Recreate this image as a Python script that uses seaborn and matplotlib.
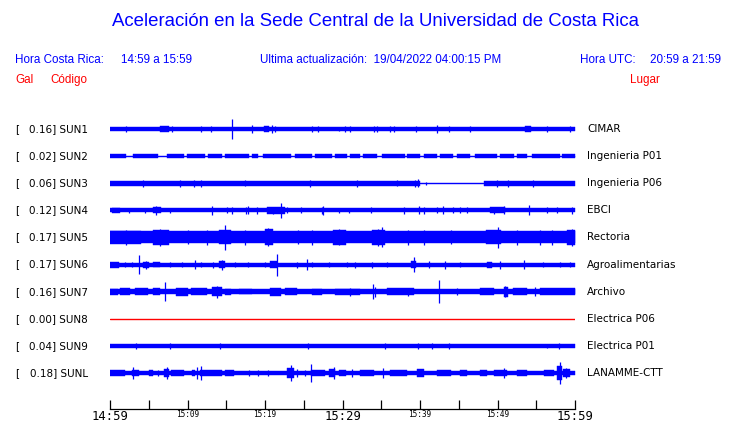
import matplotlib
matplotlib.use("Agg")
import matplotlib.pyplot as plt
import matplotlib.transforms as mtransforms
import seaborn as sns
import pandas as pd

# ---------------- data ----------------
codes = ["SUN1", "SUN2", "SUN3", "SUN4", "SUN5", "SUN6", "SUN7", "SUN8", "SUN9", "SUNL"]
gal = ["0.16", "0.02", "0.06", "0.12", "0.17", "0.17", "0.16", "0.00", "0.04", "0.18"]
places = ["CIMAR", "Ingenieria P01", "Ingenieria P06", "EBCI", "Rectoria",
          "Agroalimentarias", "Archivo", "Electrica P06", "Electrica P01", "LANAMME-CTT"]
trace_colors = ["#0000ff"] * 7 + ["#ff0000"] + ["#0000ff"] * 2

tick_minutes = [0, 5, 10, 15, 20, 25, 30, 35, 40, 45, 50, 55, 60]
tick_labels = ["14:59", "", "15:09", "", "15:19", "", "15:29", "", "15:39", "", "15:49", "", "15:59"]
big_ticks = ["14:59", "15:29", "15:59"]

# relative amplitude (trace spacing = 81 units); minutes since 14:59
# segments: (start minute, end minute, half amplitude)
segments = {
    "SUN1": [(0, 60, 6.5), (6.5, 7.6, 8.5), (19.9, 20.5, 9), (53.5, 54.3, 9)],
    "SUN2": [(0, 60, 1.5), (0, 2.0, 5), (3.0, 6.2, 5), (7.3, 9.6, 5), (9.9, 12.3, 5), (12.7, 14.4, 5),
             (14.8, 17.9, 5), (18.3, 19.1, 5), (19.8, 23.4, 5), (23.9, 26.0, 5), (26.5, 28.6, 5),
             (29.0, 30.6, 5), (31.0, 32.3, 5), (32.7, 34.4, 5), (35.1, 38.1, 5), (38.3, 40.0, 5),
             (40.5, 42.2, 5), (42.6, 44.3, 5), (44.8, 46.5, 5), (47.1, 49.9, 5), (50.3, 52.1, 5),
             (52.5, 53.8, 5), (54.4, 58.1, 5), (58.3, 60, 5)],
    "SUN3": [(0, 40.0, 8), (40.0, 48.3, 1.5), (48.3, 60, 8)],
    "SUN4": [(0, 60, 6), (0.2, 1.3, 8), (5.5, 6.6, 9), (20.2, 22.6, 10), (49.0, 51.0, 9)],
    "SUN5": [(0, 60, 18), (0, 4.0, 20), (5.6, 7.6, 23), (14.0, 15.6, 21), (20.0, 21.0, 24),
             (28.8, 30.4, 22), (33.8, 35.5, 23), (48.5, 50.5, 21), (59.0, 60, 23)],
    "SUN6": [(0, 60, 6), (0.0, 1.2, 9), (4.3, 5.0, 9), (5.5, 6.5, 8), (14.0, 14.8, 11),
             (20.7, 21.5, 11), (38.8, 39.5, 11), (48.6, 49.3, 9)],
    "SUN7": [(0, 60, 7), (0, 1.0, 9), (1.3, 2.6, 11), (3.2, 4.9, 10), (5.5, 6.5, 10), (8.5, 10.0, 12),
             (10.5, 12.5, 11), (13.2, 14.4, 14), (14.8, 15.6, 9), (16.6, 18.3, 8), (20.7, 22.0, 12),
             (22.6, 24.1, 10), (26.0, 27.3, 9), (29.0, 32.3, 9), (35.7, 39.2, 10), (47.8, 49.5, 10),
             (50.8, 51.3, 15), (52.0, 53.8, 10), (55.5, 60, 10)],
    "SUN8": [],
    "SUN9": [(0, 60, 6)],
    "SUNL": [(0, 60, 5.5), (0, 1.9, 8), (2.8, 3.8, 10), (5.0, 5.6, 9), (7.0, 7.6, 13), (7.9, 9.6, 8),
             (10.6, 11.0, 9), (11.6, 14.4, 8), (14.8, 16.0, 8), (22.8, 23.8, 14), (25.9, 27.7, 9),
             (28.3, 29.0, 13), (29.6, 30.4, 8), (32.3, 34.0, 8), (36.1, 38.3, 8), (39.6, 40.5, 12),
             (42.2, 44.0, 8), (45.2, 46.0, 8), (47.8, 48.6, 8), (49.5, 51.2, 9), (52.5, 53.8, 8),
             (56.0, 57.3, 9), (57.7, 58.3, 20), (58.5, 59.4, 12)],
}

# spikes: (minute, half amplitude)
spikes = {
    "SUN1": [(2.0, 8), (7.96, 10), (11.7, 8), (13.0, 9), (15.7, 31), (18.3, 11), (20.9, 11), (21.3, 9),
             (26.0, 8), (26.9, 8), (29.5, 7), (30.3, 8), (31.0, 8), (34.0, 10), (34.4, 9), (36.1, 8),
             (36.6, 8), (39.5, 9), (42.2, 11), (43.8, 10), (46.5, 8), (56.4, 8), (59.4, 8)],
    "SUN2": [],
    "SUN3": [(4.2, 10), (9.0, 10), (10.8, 10), (11.8, 10), (17.4, 9), (25.8, 10), (31.9, 10), (37.0, 9),
             (39.4, 11), (39.7, 12), (40.8, 4), (49.9, 10), (51.4, 10), (54.6, 10)],
    "SUN4": [(2.4, 8), (4.5, 8), (5.9, 13), (7.7, 8), (13.2, 14), (15.1, 9), (15.7, 10), (17.6, 10),
             (17.8, 12), (19.0, 10), (21.0, 11), (22.0, 22), (22.8, 9), (24.7, 9), (27.3, 10), (27.5, 13),
             (29.5, 8), (30.8, 8), (33.7, 9), (37.9, 10), (39.9, 12), (40.5, 10), (42.2, 9), (43.0, 12),
             (44.3, 9), (45.2, 9), (46.0, 9), (49.5, 10), (50.8, 12), (54.0, 15), (56.4, 9), (57.7, 9),
             (59.6, 11)],
    "SUN5": [(2.0, 22), (6.5, 26), (10.1, 21), (12.5, 22), (14.8, 37), (17.4, 22), (20.4, 27),
             (24.3, 21), (26.0, 22), (29.5, 24), (34.6, 26), (35.1, 30), (38.4, 22), (40.5, 22),
             (44.0, 21), (50.1, 31), (52.5, 22), (55.5, 22), (57.0, 22), (59.6, 25)],
    "SUN6": [(1.9, 8), (2.8, 8), (3.8, 28), (4.6, 12), (7.7, 8), (9.3, 8), (11.0, 14), (11.8, 8),
             (13.3, 9), (14.5, 15), (16.1, 8), (17.8, 8), (20.0, 8), (21.6, 33), (24.1, 9), (25.4, 17),
             (26.0, 8), (28.3, 8), (30.6, 8), (31.6, 9), (33.8, 9), (35.7, 8), (39.2, 23), (41.1, 10),
             (43.2, 12), (45.2, 8), (50.3, 12), (53.4, 14), (55.9, 8), (58.1, 8), (59.4, 8)],
    "SUN7": [(7.1, 28), (13.8, 18), (31.0, 12), (33.9, 22), (34.2, 15), (38.5, 12), (42.4, 35),
             (44.8, 10), (51.0, 17), (54.9, 14)],
    "SUN8": [],
    "SUN9": [(3.4, 8), (7.7, 9), (14.2, 8), (25.5, 8), (35.5, 8), (39.7, 9), (41.6, 8), (43.7, 8),
             (56.4, 7), (57.9, 8)],
    "SUNL": [(3.0, 19), (6.2, 8), (7.3, 19), (11.2, 19), (11.8, 20), (17.9, 8), (19.1, 8), (20.4, 8),
             (23.3, 25), (24.1, 11), (25.2, 9), (25.9, 26), (28.9, 17), (31.2, 12), (35.2, 15),
             (50.9, 14), (58.0, 32), (58.9, 16)],
}
flat_trace = pd.DataFrame({"minute": [0, 60], "value": [0, 0]})

# ---------------- figure ----------------
sns.set_theme(style="white")
plt.rcParams["font.family"] = ["DejaVu Sans"]

W, H = 740, 423
fig = plt.figure(figsize=(W / 100, H / 100), dpi=100)
fig.patch.set_facecolor("white")

SP = 81.0
px_per_unit = 27.1 / SP
ax_top, ax_bot = 110, 409
ax = fig.add_axes([110 / W, 1 - ax_bot / H, 465 / W, (ax_bot - ax_top) / H])
ax.set_facecolor("white")
ax.set_xlim(0, 60)
ytop = (129 - ax_top) / px_per_unit
ybot = -9 * SP - (ax_bot - 373) / px_per_unit
ax.set_ylim(ybot, ytop)

for i, code in enumerate(codes):
    c = -i * SP
    col = trace_colors[i]
    for (t0, t1, a) in segments[code]:
        ax.fill_between([t0, t1], [c - a, c - a], [c + a, c + a], color=col, lw=0.3, ec=col)
    sp = spikes[code]
    if sp:
        ax.vlines([s[0] for s in sp], [c - s[1] for s in sp], [c + s[1] for s in sp],
                  colors=col, lw=0.9)
    if code == "SUN8":
        sns.lineplot(data=flat_trace.assign(value=flat_trace["value"] + c), x="minute", y="value",
                     ax=ax, color=col, lw=1.0)

ax.set_xlabel("")
ax.set_ylabel("")
ax.set_yticks([])
for s in ["top", "left", "right"]:
    ax.spines[s].set_visible(False)
ax.spines["bottom"].set_color("black")
ax.spines["bottom"].set_linewidth(0.9)
ax.set_xticks(tick_minutes, tick_labels)
ax.tick_params(axis="x", direction="in", length=6.8, width=0.9, color="black", pad=1.0,
               bottom=True)
for lab in ax.get_xticklabels():
    lab.set_family("DejaVu Sans Mono")
    lab.set_color("black")
    lab.set_fontsize(8.8 if lab.get_text() in big_ticks else 5.6)

# trace labels
trans = mtransforms.blended_transform_factory(fig.transFigure, ax.transData)
for i, code in enumerate(codes):
    c = -i * SP
    ax.text(15 / W, c, "[", transform=trans, ha="left", va="center", fontsize=7.5, color="black")
    ax.text(88 / W, c, f"{gal[i]}] {code}", transform=trans, ha="right", va="center",
            fontsize=7.5, color="black")
    ax.text(587 / W, c, places[i], transform=trans, ha="left", va="center", fontsize=7.5,
            color="black")

# header
blue = "#0000ff"
hf = ["Liberation Sans", "DejaVu Sans"]
def ftext(x, y, s, color, size, ha="left"):
    fig.text(x / W, 1 - y / H, s, ha=ha, va="center", color=color, fontsize=size, family=hf)

ftext(375, 22, "Aceleración en la Sede Central de la Universidad de Costa Rica", blue, 13.4, "center")
ftext(15, 60, "Hora Costa Rica:", blue, 8.4)
ftext(121, 60, "14:59 a 15:59", blue, 8.4)
ftext(260, 60, "Ultima actualización:  19/04/2022 04:00:15 PM", blue, 8.4)
ftext(580, 60, "Hora UTC:", blue, 8.4)
ftext(650, 60, "20:59 a 21:59", blue, 8.4)
ftext(15, 80, "Gal", "#ff0000", 8.4)
ftext(50, 80, "Código", "#ff0000", 8.4)
ftext(630, 80, "Lugar", "#ff0000", 8.4)

fig.savefig("out.png", dpi=100, facecolor="white")
